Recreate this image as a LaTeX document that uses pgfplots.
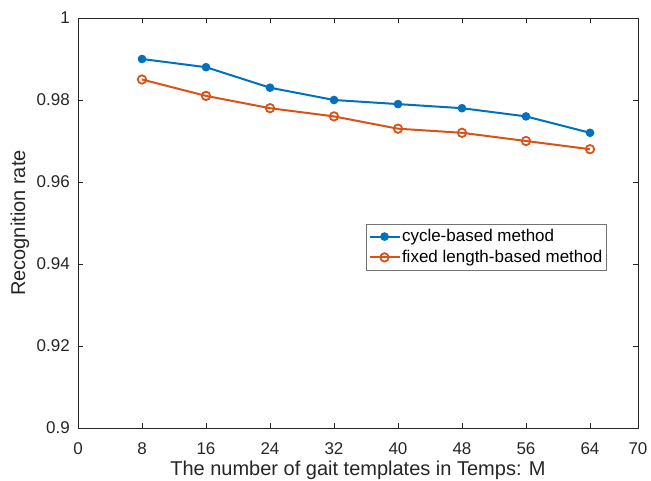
\documentclass[border=0pt]{standalone}
\usepackage{pgfplots}
\pgfplotsset{compat=1.18}
\usepackage{fontspec}
\setmainfont{Liberation Sans}
\definecolor{mblue}{rgb}{0,0.447,0.741}
\definecolor{morange}{rgb}{0.85,0.325,0.098}
\definecolor{axgray}{rgb}{0.15,0.15,0.15}
\begin{document}
\begin{tikzpicture}
\begin{axis}[
  scale only axis,
  width=560pt, height=410pt,
  xmin=0, xmax=70, ymin=0.9, ymax=1,
  xtick={0,8,16,24,32,40,48,56,64,70},
  xticklabels={0,8,16,24,32,40,48,56,64,70},
  ytick={0.9,0.92,0.94,0.96,0.98,1},
  yticklabels={0.9,0.92,0.94,0.96,0.98,1},
  tick align=inside,
  major tick length=5pt,
  axis line style={axgray, line width=0.6pt},
  every tick/.style={axgray, line width=0.6pt},
  tick label style={font=\fontsize{17}{20}\selectfont, text=axgray},
  yticklabel style={anchor=east, inner sep=0pt, xshift=-8pt},
  xticklabel style={anchor=north, inner sep=0pt, yshift=-14pt},
  xlabel={The number of gait templates in Temps: M},
  ylabel={Recognition rate},
  label style={font=\fontsize{20}{24}\selectfont, text=axgray},
  xlabel style={at={(axis description cs:0.5,-0.117)}, anchor=base},
  ylabel style={at={(axis description cs:-0.0946,0.5)}, anchor=base},
  legend style={at={(rel axis cs:0.943,0.4976)}, anchor=north east,
    draw=black!55, fill=white, font=\fontsize{17}{20}\selectfont,
    text=black, inner xsep=2pt, inner ysep=4pt, row sep=4pt,
    nodes={inner sep=1.5pt}},
  legend cell align=left,
  legend image code/.code={
    \draw[mark repeat=2,mark phase=2] plot coordinates {(0pt,0pt) (15pt,0pt) (30pt,0pt)};
  },
]
\addplot[color=mblue, line width=2pt, mark=*, mark size=3.8pt, mark options={fill=mblue, line width=1pt}]
  coordinates {(8,0.990) (16,0.988) (24,0.983) (32,0.980) (40,0.979) (48,0.978) (56,0.976) (64,0.972)};
\addlegendentry{cycle-based method}
\addplot[color=morange, line width=2pt, mark=o, mark size=4.2pt, mark options={line width=1.8pt}]
  coordinates {(8,0.985) (16,0.981) (24,0.978) (32,0.976) (40,0.973) (48,0.972) (56,0.970) (64,0.968)};
\addlegendentry{fixed length-based method}
\end{axis}
\pgfresetboundingbox
\useasboundingbox (-78pt,-53pt) rectangle (573pt,428pt);
\end{tikzpicture}
\end{document}
